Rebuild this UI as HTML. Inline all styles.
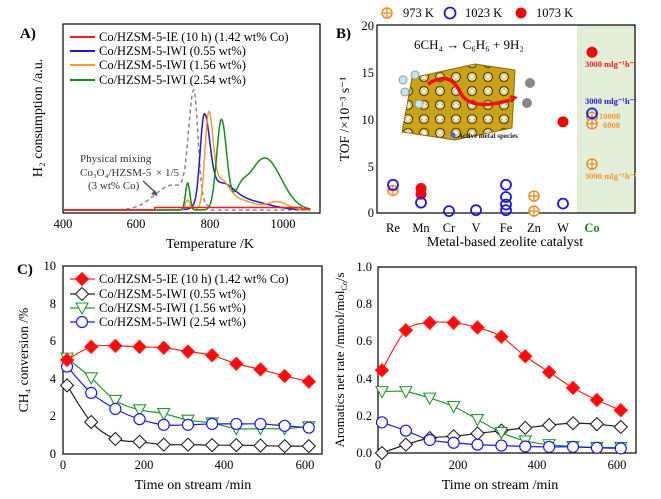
<!DOCTYPE html>
<html><head><meta charset="utf-8"><style>
body{margin:0;background:#fff;}
svg{display:block;font-family:"Liberation Serif",serif;}
</style></head><body>
<svg id="s" width="661" height="499" xmlns="http://www.w3.org/2000/svg">
<defs>
<pattern id="hex" width="16" height="14" patternUnits="userSpaceOnUse">
<rect width="16" height="14" fill="#c9a21a"/>
<circle cx="8" cy="7" r="4.5" fill="#fff" stroke="#6b5200" stroke-width="1.5"/>
<circle cx="8" cy="7" r="2.5" fill="none" stroke="#c9a21a" stroke-width="0.8"/>
</pattern>
</defs>
<!-- Panel A -->
<text x="20" y="38" font-size="15" font-weight="bold">A)</text>
<rect x="63" y="24" width="257" height="189" fill="none" stroke="#000" stroke-width="1.2"/>
<g id="A"></g>
<g font-size="12.5">
<line x1="70" y1="37" x2="95" y2="37" stroke="#ff1a1a" stroke-width="2"/><text x="99" y="41">Co/HZSM-5-IE (10 h) (1.42 wt% Co)</text>
<line x1="70" y1="51" x2="95" y2="51" stroke="#1a1add" stroke-width="2"/><text x="99" y="55">Co/HZSM-5-IWI (0.55 wt%)</text>
<line x1="70" y1="65" x2="95" y2="65" stroke="#ff9a2a" stroke-width="2"/><text x="99" y="69">Co/HZSM-5-IWI (1.56 wt%)</text>
<line x1="70" y1="80" x2="95" y2="80" stroke="#1a8a1a" stroke-width="2"/><text x="99" y="84">Co/HZSM-5-IWI (2.54 wt%)</text>
</g>
<g font-size="11" fill="#333">
<text x="80" y="162">Physical mixing</text>
<text x="80" y="176">Co₃O₄/HZSM-5</text>
<text x="156" y="176">× 1/5</text>
<text x="88" y="189">(3 wt% Co)</text>
</g>
<line x1="143" y1="181" x2="156" y2="193" stroke="#555" stroke-width="1.5"/><path d="M158,196 l-7,-2 l4,-4z" fill="#555"/>
<g font-size="12.5" text-anchor="middle">
<text x="63" y="228">400</text><text x="136" y="228">600</text><text x="210" y="228">800</text><text x="283" y="228">1000</text>
<text x="210" y="248" font-size="14">Temperature /K</text>
</g>
<text transform="translate(42,118) rotate(-90)" font-size="14" text-anchor="middle">H₂ consumption /a.u.</text>

<!-- Panel B -->
<rect x="577" y="25" width="58" height="188" fill="#e3eed9"/>
<rect x="377" y="25" width="258" height="188" fill="none" stroke="#000" stroke-width="1.2"/>
<text x="336" y="38" font-size="15" font-weight="bold">B)</text>
<g font-size="12.5">
<circle cx="387" cy="13" r="5" fill="none" stroke="#f08a20" stroke-width="1.5"/><path d="M382,13h10M387,8v10" stroke="#f08a20" stroke-width="1.3"/><text x="403" y="17">973 K</text>
<circle cx="450" cy="13" r="5.5" fill="none" stroke="#1a1aee" stroke-width="1.8"/><text x="465" y="17">1023 K</text>
<circle cx="521" cy="13" r="5.5" fill="#ee0a0a"/><text x="536" y="17">1073 K</text>
</g>
<g font-size="12.5" text-anchor="end">
<text x="374" y="30">20</text><text x="374" y="77">15</text><text x="374" y="124">10</text><text x="374" y="171">5</text><text x="374" y="217">0</text>
</g>
<text transform="translate(349,119) rotate(-90)" font-size="13.5" text-anchor="middle">TOF /×10⁻³ s⁻¹</text>
<text x="414" y="49" font-size="13">6CH₄ → C₆H₆ + 9H₂</text>
<!-- inset -->
<polygon points="412,78 475,64 515,70 512,128 455,140 402,132" fill="url(#hex)" stroke="#8a6a00"/>
<g fill="#bfe9ee" stroke="#999"><circle cx="403" cy="80" r="4"/><circle cx="415" cy="75" r="4"/><circle cx="405" cy="92" r="4"/><circle cx="419" cy="104" r="4"/></g>
<g fill="#888"><circle cx="530" cy="83" r="5"/><circle cx="527" cy="103" r="5"/></g>
<path d="M428,84 Q450,70 460,92 Q470,112 510,100" fill="none" stroke="#ee1010" stroke-width="3.5"/>
<path d="M510,95 l8,2 l-7,6z" fill="#ee1010"/>
<circle cx="453" cy="135" r="2.5" fill="#4466ee"/><text x="458" y="138" font-size="7" font-weight="bold" fill="#222">Active metal species</text>
<g id="B"></g>
<g font-size="12.5" text-anchor="middle">
<text x="393" y="232">Re</text><text x="421" y="232">Mn</text><text x="449" y="232">Cr</text><text x="476" y="232">V</text><text x="506" y="232">Fe</text><text x="534" y="232">Zn</text><text x="563" y="232">W</text><text x="592" y="232" fill="#1a8a1a" font-weight="bold">Co</text>
<text x="505" y="246" font-size="14">Metal-based zeolite catalyst</text>
</g>
<g font-size="8.5" font-weight="bold">
<text x="585" y="67" fill="#e02020">3000 mlg⁻¹h⁻¹</text>
<text x="585" y="104" fill="#2020cc">3000 mlg⁻¹h⁻¹</text>
<text x="599" y="119" fill="#f09a30">10000</text>
<text x="603" y="128" fill="#f09a30">6000</text>
<text x="585" y="179" fill="#f09a30">3000 mlg⁻¹h⁻¹</text>
</g>

<!-- Panel C -->
<text x="17" y="274" font-size="15" font-weight="bold">C)</text>
<rect x="63" y="266" width="259" height="188" fill="none" stroke="#000" stroke-width="1.2"/>
<g font-size="12.5" text-anchor="end">
<text x="56" y="270">10</text><text x="56" y="308">8</text><text x="56" y="345">6</text><text x="56" y="383">4</text><text x="56" y="420">2</text><text x="56" y="458">0</text>
</g>
<g font-size="12.5" text-anchor="middle">
<text x="63" y="469">0</text><text x="144" y="469">200</text><text x="224" y="469">400</text><text x="305" y="469">600</text>
<text x="193" y="489" font-size="14">Time on stream /min</text>
<text x="378" y="469">0</text><text x="458" y="469">200</text><text x="537" y="469">400</text><text x="617" y="469">600</text>
<text x="500" y="489" font-size="14">Time on stream /min</text>
</g>
<text transform="translate(28,360) rotate(-90)" font-size="13.5" text-anchor="middle">CH₄ conversion /%</text>
<g id="C"></g>
<g font-size="12.5">
<text x="99" y="283">Co/HZSM-5-IE (10 h) (1.42 wt% Co)</text>
<text x="99" y="298">Co/HZSM-5-IWI (0.55 wt%)</text>
<text x="99" y="312">Co/HZSM-5-IWI (1.56 wt%)</text>
<text x="99" y="326">Co/HZSM-5-IWI (2.54 wt%)</text>
</g>

<!-- Panel D -->
<rect x="378" y="267" width="258" height="186" fill="none" stroke="#000" stroke-width="1.2"/>
<g font-size="12.5" text-anchor="end">
<text x="372" y="271">1.0</text><text x="372" y="308">0.8</text><text x="372" y="345">0.6</text><text x="372" y="383">0.4</text><text x="372" y="420">0.2</text><text x="372" y="457">0.0</text>
</g>
<text transform="translate(344,360) rotate(-90)" font-size="13" text-anchor="middle">Aromatics net rate /mmol/mol<tspan font-size="8" dy="3">Co</tspan><tspan dy="-3">/s</tspan></text>
<g id="D"></g>
</svg>
<script>
const NS="http://www.w3.org/2000/svg";
function el(g,tag,a){const e=document.createElementNS(NS,tag);for(const k in a)e.setAttribute(k,a[k]);document.getElementById(g).appendChild(e);return e;}
function g(T,c,h,s){return h*Math.exp(-((T-c)**2)/(2*s*s));}
function ga(T,c,h,sl,sr){return g(T,c,h,T<c?sl:sr);}
const X=T=>63+(T-400)*0.3667;
function curve(f,col,dash){let d="";for(let T=400;T<=1075;T+=1.5){d+=(d?"L":"M")+X(T).toFixed(1)+","+(210-f(T)).toFixed(1);}
 const a={d:d,fill:"none",stroke:col,"stroke-width":1.5};if(dash)a["stroke-dasharray"]="4,3";el("A","path",a);}
curve(T=>T<540?0:(g(T,700,25,50)+ga(T,757,107,14,11))*(T>800?Math.max(0,1-(T-800)/5):1),"#888",true);
curve(T=>ga(T,785,85,11,15)+g(T,830,22,35)+g(T,900,9,60)*(T<1070?1:0),"#1a1add");
curve(T=>g(T,740,10,6)+ga(T,797,89,10,12)+g(T,830,25,22)+g(T,880,10,40)+g(T,985,8,28),"#ff9a2a");
curve(T=>g(T,740,27,6)+ga(T,832,89,13,14)+g(T,950,52,45)+g(T,885,10,15),"#1a8a1a");
curve(T=>T<650?0:(T>1050?1:2.5),"#ff1a1a");
// B markers
const Y=v=>213-v*9.4;
function o973(x,v){el("B","circle",{cx:x,cy:Y(v),r:5,fill:"#fff",stroke:"#f08a20","stroke-width":1.5});el("B","path",{d:`M${x-5},${Y(v)}h10M${x},${Y(v)-5}v10`,stroke:"#f08a20","stroke-width":1.3});}
function o1023(x,v){el("B","circle",{cx:x,cy:Y(v),r:5,fill:"none",stroke:"#1a1aee","stroke-width":1.8});}
function o1073(x,v){el("B","circle",{cx:x,cy:Y(v),r:5.5,fill:"#ee0a0a"});}
o973(393,2.4);o1023(393,3.0);
o1073(421,2.6);o1073(421,2.0);o1023(421,1.1);
o1023(449,0.2);o1023(476,0.3);
o1023(506,3.0);o1023(506,1.7);o1023(506,0.9);o1023(506,0.3);
o973(534,1.8);o973(534,0.2);o1023(563,1.0);o1073(563,9.7);
o1073(592,17.1);o973(592,10.2);o973(592,9.5);o973(592,5.2);o1023(592,10.6);
// C & D
const t=[10,70,130,190,250,310,370,430,490,550,610];
function series(gid,x0,sx,y0,sy,vals,col,mk,fill){
 const pts=t.map((tt,i)=>[x0+tt*sx,y0-vals[i]*sy]);
 let d="M"+pts[0];for(let i=1;i<pts.length;i++){const p0=pts[i-2]||pts[i-1],p1=pts[i-1],p2=pts[i],p3=pts[i+1]||p2;
 d+=`C${p1[0]+(p2[0]-p0[0])/6},${p1[1]+(p2[1]-p0[1])/6} ${p2[0]-(p3[0]-p1[0])/6},${p2[1]-(p3[1]-p1[1])/6} ${p2[0]},${p2[1]}`;}
 el(gid,"path",{d:d,fill:"none",stroke:col,"stroke-width":1.2});
 pts.forEach(p=>marker(gid,p[0],p[1],mk,col,fill));}
function marker(gid,x,y,mk,col,fill){
 if(mk=="d")el(gid,"path",{d:`M${x},${y-6.5}L${x+6.5},${y}L${x},${y+6.5}L${x-6.5},${y}Z`,fill:fill,stroke:col,"stroke-width":1.1});
 if(mk=="t")el(gid,"path",{d:`M${x-6},${y-5}L${x+6},${y-5}L${x},${y+6}Z`,fill:"#fff",stroke:col,"stroke-width":1.1});
 if(mk=="o")el(gid,"circle",{cx:x,cy:y,r:5.5,fill:"#fff",stroke:col,"stroke-width":1.2});}
const C={r:[5.0,5.7,5.75,5.7,5.65,5.45,5.25,4.8,4.5,4.15,3.85],k:[3.65,1.7,0.8,0.65,0.5,0.5,0.47,0.47,0.45,0.42,0.42],
 g:[5.1,4.05,2.85,2.35,2.15,1.8,1.65,1.35,1.35,1.35,1.45],b:[4.65,3.25,2.4,1.85,1.55,1.55,1.6,1.6,1.6,1.5,1.4]};
series("C",63,0.403,454,18.8,C.k,"#222","d","#fff");
series("C",63,0.403,454,18.8,C.g,"#22992a","t");
series("C",63,0.403,454,18.8,C.b,"#1a1aee","o");
series("C",63,0.403,454,18.8,C.r,"#ff2020","d","#ff0a0a");
const D={r:[0.445,0.66,0.70,0.70,0.675,0.625,0.52,0.435,0.35,0.285,0.23],g:[0.33,0.33,0.295,0.25,0.18,0.11,0.065,0.045,0.035,0.03,0.03],
 b:[0.165,0.12,0.07,0.055,0.045,0.04,0.035,0.033,0.033,0.028,0.025],k:[0.0,0.045,0.08,0.09,0.105,0.12,0.135,0.15,0.16,0.155,0.14]};
series("D",378,0.398,453,186,D.k,"#222","d","#fff");
series("D",378,0.398,453,186,D.g,"#22992a","t");
series("D",378,0.398,453,186,D.b,"#1a1aee","o");
series("D",378,0.398,453,186,D.r,"#ff2020","d","#ff0a0a");
// legend C
[[279,"#ff2020","d","#ff0a0a"],[294,"#222","d","#fff"],[308,"#22992a","t"],[322,"#1a1aee","o"]].forEach(a=>{
 el("C","line",{x1:70,y1:a[0],x2:95,y2:a[0],stroke:a[1],"stroke-width":1.2});marker("C",82,a[0],a[2],a[1],a[3]);});
</script>
</body></html>
